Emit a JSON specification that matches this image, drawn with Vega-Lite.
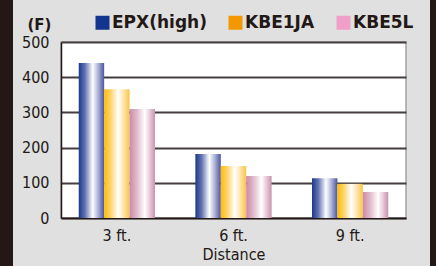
{
  "$schema": "https://vega.github.io/schema/vega-lite/v6.json",
  "background": "#dfe0df",
  "padding": 0,
  "spacing": 0,
  "bounds": "full",
  "config": {
    "view": {"stroke": null},
    "font": "Liberation Sans Narrow, DejaVu Sans Condensed, Roboto, Liberation Sans, sans-serif"
  },
  "hconcat": [
    {
      "width": 13, "height": 266,
      "data": {"values": [{}]},
      "mark": {"type": "point", "opacity": 0},
      "view": {"fill": "#231815", "stroke": null}
    },
    {
      "spacing": 0,
      "bounds": "flush",
      "vconcat": [
        {
          "width": 345, "height": 42,
          "data": {"values": [{}]},
          "mark": {"type": "point", "opacity": 0}
        },
        {
          "width": 345, "height": 176,
          "data": {"values": [
            {"distance": "3 ft.", "series": "EPX(high)", "value": 440},
            {"distance": "3 ft.", "series": "KBE1JA", "value": 366},
            {"distance": "3 ft.", "series": "KBE5L", "value": 310},
            {"distance": "6 ft.", "series": "EPX(high)", "value": 182},
            {"distance": "6 ft.", "series": "KBE1JA", "value": 148},
            {"distance": "6 ft.", "series": "KBE5L", "value": 119},
            {"distance": "9 ft.", "series": "EPX(high)", "value": 113},
            {"distance": "9 ft.", "series": "KBE1JA", "value": 97},
            {"distance": "9 ft.", "series": "KBE5L", "value": 74}
          ]},
          "view": {"fill": "white", "stroke": "#a3a3a3", "strokeWidth": 1.5},
          "encoding": {
            "x": {
              "field": "distance", "type": "nominal",
              "sort": ["3 ft.", "6 ft.", "9 ft."],
              "scale": {"paddingInner": 0.346, "paddingOuter": 0.152},
              "axis": {
                "title": "Distance", "labelAngle": 0, "ticks": false,
                "domainColor": "#231815", "domainWidth": 1.5,
                "labelFont": "Liberation Sans Narrow, DejaVu Sans Condensed, Roboto, Liberation Sans, sans-serif",
                "labelFontSize": 16, "labelColor": "#231815",
                "labelPadding": 9,
                "titleFont": "Liberation Sans Narrow, DejaVu Sans Condensed, Roboto, Liberation Sans, sans-serif",
                "titleFontSize": 16, "titleFontWeight": "normal",
                "titleColor": "#231815", "titlePadding": 3
              }
            },
            "xOffset": {
              "field": "series", "type": "nominal",
              "scale": {"domain": ["EPX(high)", "KBE1JA", "KBE5L"], "paddingInner": 0, "paddingOuter": 0}
            },
            "y": {
              "field": "value", "type": "quantitative",
              "scale": {"domain": [0, 500], "nice": false},
              "axis": {
                "values": [0, 100, 200, 300, 400, 500],
                "ticks": false, "domainColor": "#231815", "domainWidth": 1.5,
                "gridColor": "#463e3e", "gridWidth": 2,
                "labelFont": "Liberation Sans Narrow, DejaVu Sans Condensed, Roboto, Liberation Sans, sans-serif",
                "labelFontSize": 16, "labelColor": "#231815",
                "labelPadding": 12,
                "minExtent": 47, "maxExtent": 47,
                "title": "(F)", "titleAngle": 0, "titleX": -22, "titleY": -18,
                "titleAlign": "center", "titleBaseline": "middle",
                "titleFont": "DejaVu Sans", "titleFontSize": 15, "titleFontWeight": "bold", "titleColor": "#231815"
              }
            }
          },
          "layer": [
            {
              "mark": {"type": "bar", "opacity": 0},
              "encoding": {
                "color": {
                  "field": "series", "type": "nominal",
                  "scale": {
                    "domain": ["EPX(high)", "KBE1JA", "KBE5L"],
                    "range": ["#123590", "#f39800", "#f0a0c8"]
                  },
                  "legend": {
                    "title": null, "orient": "none", "direction": "horizontal",
                    "legendX": 94, "legendY": 14, "padding": 0,
                    "symbolType": "square", "symbolSize": 196, "symbolStrokeWidth": 0,
                    "labelFont": "DejaVu Sans", "labelFontSize": 17, "labelFontWeight": "bold",
                    "labelColor": "#231815", "labelOffset": 1, "columnPadding": 20,
                    "encode": {
                      "symbols": {
                        "update": {
                          "opacity": {"value": 1},
                          "fillOpacity": {"value": 1},
                          "strokeWidth": {"value": 0}
                        }
                      }
                    }
                  }
                }
              }
            },
            {
              "transform": [{"filter": "datum.series === 'EPX(high)'"}],
              "mark": {"type": "bar", "strokeWidth": 0, "color": {"gradient": "linear", "x1": 0, "y1": 0, "x2": 1, "y2": 0, "stops": [
                {"offset": 0, "color": "#1c388c"},
                {"offset": 0.25, "color": "#6473b2"},
                {"offset": 0.55, "color": "#ffffff"},
                {"offset": 0.78, "color": "#a6acd2"},
                {"offset": 1, "color": "#4b559e"}
              ]}}
            },
            {
              "transform": [{"filter": "datum.series === 'KBE1JA'"}],
              "mark": {"type": "bar", "strokeWidth": 0, "color": {"gradient": "linear", "x1": 0, "y1": 0, "x2": 1, "y2": 0, "stops": [
                {"offset": 0, "color": "#ffbb05"},
                {"offset": 0.25, "color": "#fed36a"},
                {"offset": 0.55, "color": "#ffffff"},
                {"offset": 0.8, "color": "#fde0a0"},
                {"offset": 1, "color": "#fcc440"}
              ]}}
            },
            {
              "transform": [{"filter": "datum.series === 'KBE5L'"}],
              "mark": {"type": "bar", "strokeWidth": 0, "color": {"gradient": "linear", "x1": 0, "y1": 0, "x2": 1, "y2": 0, "stops": [
                {"offset": 0, "color": "#c98aa8"},
                {"offset": 0.3, "color": "#e2bccd"},
                {"offset": 0.6, "color": "#ffffff"},
                {"offset": 0.82, "color": "#e4c2d2"},
                {"offset": 1, "color": "#c993ae"}
              ]}}
            }
          ]
        },
        {
          "width": 345, "height": 48,
          "data": {"values": [{}]},
          "mark": {"type": "point", "opacity": 0}
        }
      ]
    },
    {
      "width": 23, "height": 266,
      "data": {"values": [{}]},
      "mark": {"type": "point", "opacity": 0}
    },
    {
      "width": 8, "height": 266,
      "data": {"values": [{}]},
      "mark": {"type": "point", "opacity": 0},
      "view": {"fill": "#231815", "stroke": null}
    }
  ]
}
